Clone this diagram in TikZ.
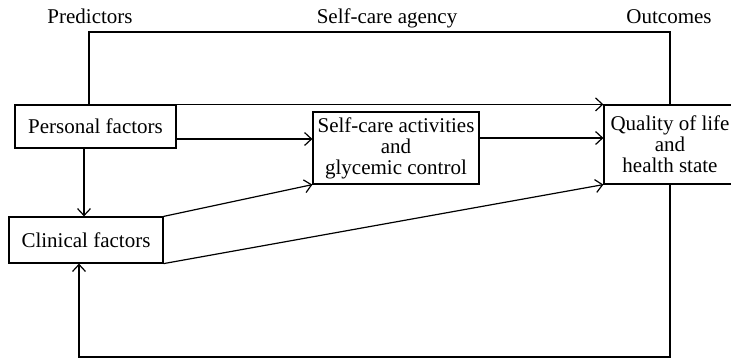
\documentclass[tikz,border=0pt]{standalone}
\usepackage{fontspec}
\setmainfont{Liberation Serif}
\usetikzlibrary{arrows.meta}

\tikzset{
    factor/.style={draw, line width=0.6pt, align=center, inner sep=0pt},
    link/.style={line width=0.6pt},
    >={Straight Barb[length=3.5pt,width=6.5pt]},
}

\begin{document}
\begin{tikzpicture}[x=0.5pt, y=-0.5pt, font=\fontsize{10.5}{10.5}\selectfont]
    % Frame
    \clip (0,0) rectangle (731,360);

    % Column titles
    \node[anchor=base] (pred) at (90,23) {Predictors};
    \node[anchor=base] (agency) at (387,23) {Self-care agency};
    \node[anchor=base] (outc) at (669,23) {Outcomes};

    % Boxes
    \node[factor, minimum width=80.5pt, minimum height=21.5pt] (pers) at (95.5,126.5) {Personal factors};
    \node[factor, minimum width=77pt, minimum height=23pt] (clin) at (86,240) {Clinical factors};
    \node[factor, minimum width=83pt, minimum height=36pt] (self) at (396,148) {Self-care activities\\and\\glycemic control};
    \node[factor, minimum width=66pt, minimum height=39.5pt] (qual) at (670,144.5) {Quality of life\\and\\health state};

    % Bends of the loops
    \coordinate (tl) at (89,32);
    \coordinate (tr) at (670,32);
    \coordinate (bl) at (79,357);
    \coordinate (pc) at (84,0);
    \coordinate (ps) at (0,139);
    \coordinate (sq) at (0,138);

    % Agency bracket on top
    \draw[link] (pers.north -| tl) -- (tl) -- (tr) -- (qual.north);

    % Paths
    \draw[link, ->] (pers.north east) -- (qual.north west);
    \draw[link, ->] (pers.east |- ps) -- (self.west |- ps);
    \draw[link, ->] (pers.south -| pc) -- (clin.north -| pc);
    \draw[link, ->] (clin.north east) -- (self.south west);
    \draw[link, ->] (clin.south east) -- (qual.south west);
    \draw[link, ->] (self.east |- sq) -- (qual.west |- sq);

    % Feedback loop
    \draw[link, ->] (qual.south) -- (qual.south |- bl) -- (bl) -- (clin.south -| bl);
\end{tikzpicture}
\end{document}
